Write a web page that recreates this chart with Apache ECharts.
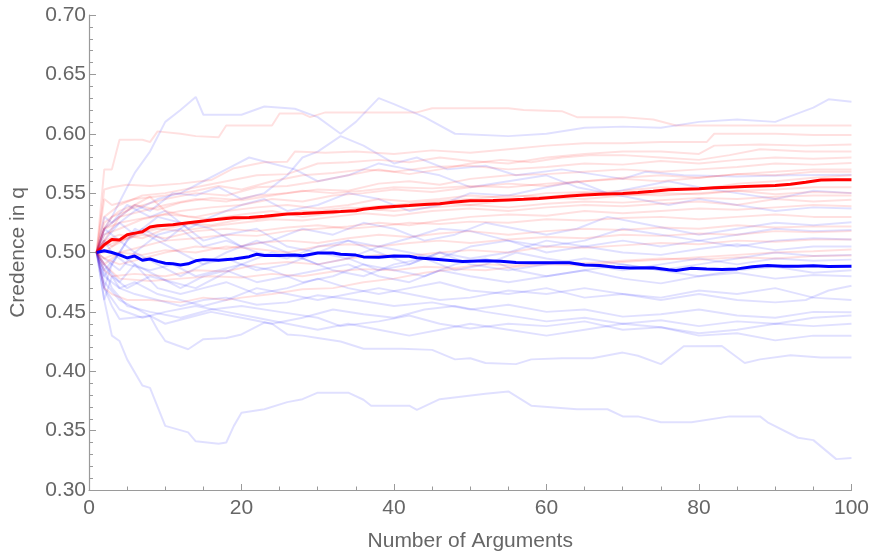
<!DOCTYPE html>
<html><head><meta charset="utf-8">
<script src="https://cdn.jsdelivr.net/npm/echarts@6/dist/echarts.min.js"></script>
<style>html,body{margin:0;padding:0;background:#fff}#c{width:872px;height:557px}</style>
</head><body><div id="c"></div>
<script>
// Individual faint runs (x = number of arguments, y = credence in q)
const r01=[[1,.5],[2,.57],[3,.57],[4,.595],[7,.595],[8,.593],[9,.602],[12,.60],[14,.598],[17,.597],[18,.607],[24,.607],[25,.617],[28,.617],[29,.614],[31,.618],[43,.618],[45,.6215],[55,.6215],[57,.62],[62,.619],[64,.614],[70,.614],[74,.612],[77,.607],[95,.607],[100,.607]];
const r02=[[1,.5],[2,.553],[3,.555],[5,.557],[8,.556],[12,.558],[16,.561],[19,.571],[23,.576],[26,.5765],[27,.585],[31,.584],[35,.585],[40,.583],[45,.586],[50,.584],[55,.587],[60,.59],[65,.592],[70,.592],[75,.593],[81,.593],[82,.6],[90,.6],[95,.599],[100,.599]];
const r03=[[1,.5],[2,.53],[4,.54],[7,.548],[10,.55],[14,.555],[18,.56],[22,.565],[26,.566],[30,.575],[34,.576],[38,.578],[42,.576],[46,.58],[50,.577],[55,.575],[60,.58],[65,.583],[70,.585],[75,.585],[80,.583],[82,.59],[88,.591],[94,.59],[100,.591]];
const r04=[[1,.5],[2,.52],[3,.53],[6,.538],[10,.545],[14,.55],[18,.548],[22,.555],[26,.556],[30,.56],[34,.565],[38,.57],[42,.566],[46,.57],[50,.575],[54,.578],[58,.576],[62,.58],[66,.582],[70,.582],[75,.58],[80,.578],[84,.582],[88,.587],[94,.585],[100,.585]];
const r05=[[1,.5],[2,.51],[4,.53],[7,.535],[10,.54],[14,.545],[18,.543],[22,.548],[26,.55],[30,.553],[34,.552],[38,.558],[42,.56],[46,.557],[50,.562],[55,.565],[60,.566],[65,.568],[70,.57],[75,.568],[80,.57],[85,.572],[90,.575],[95,.574],[100,.5754]];
const r06=[[1,.5],[2,.525],[4,.535],[6,.54],[9,.536],[12,.542],[16,.546],[20,.544],[24,.548],[28,.552],[32,.55],[36,.552],[40,.555],[45,.554],[50,.556],[55,.555],[60,.558],[65,.56],[70,.562],[75,.56],[80,.563],[85,.566],[90,.565],[95,.568],[100,.568]];
const r07=[[1,.5],[2,.515],[4,.52],[7,.528],[10,.532],[14,.53],[18,.535],[22,.538],[26,.54],[30,.537],[34,.54],[38,.545],[42,.543],[46,.545],[50,.548],[55,.546],[60,.55],[65,.551],[70,.549],[75,.548],[80,.55],[85,.552],[90,.549],[95,.551],[100,.5502]];
const r08=[[1,.5],[2,.51],[3,.505],[6,.515],[9,.52],[12,.518],[16,.522],[20,.525],[24,.528],[28,.527],[32,.53],[36,.533],[40,.531],[45,.535],[50,.537],[55,.535],[60,.538],[65,.54],[70,.539],[75,.541],[80,.543],[85,.54],[90,.545],[95,.543],[100,.5445]];
const r09=[[1,.5],[2,.49],[4,.5],[7,.505],[10,.51],[14,.512],[18,.515],[22,.514],[26,.518],[30,.52],[34,.522],[38,.525],[42,.523],[46,.527],[50,.53],[55,.532],[60,.531],[65,.535],[70,.533],[75,.535],[80,.537],[85,.536],[90,.538],[95,.54],[100,.539]];
const r10=[[1,.5],[2,.505],[4,.51],[7,.515],[10,.512],[14,.518],[18,.52],[22,.518],[26,.521],[30,.523],[34,.52],[38,.522],[42,.525],[46,.524],[50,.526],[55,.525],[60,.528],[65,.527],[70,.529],[75,.53],[80,.528],[85,.53],[90,.532],[95,.53],[100,.53]];
const r11=[[1,.5],[2,.495],[4,.49],[7,.495],[10,.5],[14,.505],[18,.503],[22,.508],[26,.51],[30,.508],[34,.512],[38,.515],[42,.513],[46,.516],[50,.518],[55,.515],[60,.518],[65,.52],[70,.519],[75,.521],[80,.52],[85,.523],[90,.521],[95,.522],[100,.522]];
const r12=[[1,.5],[2,.485],[3,.48],[6,.482],[10,.48],[14,.485],[18,.484],[22,.49],[26,.492],[30,.49],[34,.495],[38,.498],[42,.497],[46,.5],[50,.502],[55,.5],[60,.505],[65,.504],[70,.506],[75,.508],[80,.507],[85,.51],[90,.509],[95,.511],[100,.511]];
const r13=[[1,.5],[2,.47],[3,.465],[5,.46],[8,.46],[12,.458],[15,.462],[18,.46],[20,.462],[24,.465],[28,.469],[32,.47],[36,.475],[40,.478],[44,.483],[48,.486],[52,.485],[56,.488],[60,.49],[65,.489],[70,.492],[75,.494],[80,.496],[85,.498],[90,.5],[95,.501],[100,.5025]];
const r14=[[1,.5],[2,.49],[4,.478],[8,.476],[12,.478],[16,.48],[20,.479],[24,.482],[28,.48],[32,.484],[36,.486],[40,.485],[44,.488],[48,.487],[52,.49],[56,.489],[60,.492],[65,.491],[70,.493],[75,.495],[80,.494],[85,.496],[90,.495],[95,.497],[100,.4975]];
const r15=[[1,.5],[2,.545],[3,.54],[6,.545],[10,.548],[14,.552],[17,.556],[20,.553],[24,.56],[28,.565],[32,.567],[36,.57],[40,.568],[45,.572],[50,.573],[55,.57],[60,.572],[65,.575],[70,.574],[75,.577],[80,.575],[85,.578],[90,.58],[95,.579],[100,.58]];
const r16=[[1,.5],[2,.52],[4,.525],[8,.53],[12,.535],[16,.538],[20,.54],[24,.545],[28,.543],[32,.548],[36,.55],[40,.553],[45,.551],[50,.555],[55,.558],[60,.556],[65,.56],[70,.563],[75,.565],[80,.563],[85,.566],[90,.568],[95,.57],[100,.57]];
const r17=[[1,.5],[2,.5],[4,.51],[8,.52],[12,.525],[16,.523],[20,.528],[24,.53],[28,.535],[32,.533],[36,.538],[40,.54],[45,.543],[50,.545],[55,.548],[60,.547],[65,.55],[70,.552],[75,.555],[80,.553],[85,.558],[90,.56],[95,.563],[100,.565]];
const r18=[[1,.5],[2,.51],[4,.515],[7,.512],[10,.52],[14,.525],[18,.53],[22,.528],[26,.532],[30,.535],[34,.538],[38,.536],[42,.54],[46,.542],[50,.54],[55,.544],[60,.546],[65,.545],[70,.548],[75,.55],[80,.549],[85,.552],[90,.553],[95,.555],[100,.555]];
const r19=[[1,.5],[2,.52],[4,.53],[6,.54],[8,.547],[10,.535],[13,.53],[16,.528],[20,.532],[24,.535],[28,.53],[32,.533],[36,.537],[40,.535],[45,.538],[50,.54],[55,.538],[60,.541],[65,.543],[70,.542],[75,.544],[80,.546],[85,.545],[90,.547],[95,.548],[100,.548]];
const r20=[[1,.5],[2,.495],[4,.5],[7,.498],[10,.502],[14,.5],[18,.505],[22,.503],[26,.5],[30,.505],[34,.507],[38,.505],[42,.508],[46,.51],[50,.508],[55,.511],[60,.513],[65,.512],[70,.515],[75,.514],[80,.516],[85,.515],[90,.518],[95,.517],[100,.518]];

const b01=[[1,.5],[2,.52],[3,.53],[5,.555],[6,.567],[8,.585],[10,.61],[12,.62],[14,.631],[15,.616],[20,.616],[23,.623],[27,.621],[30,.614],[33,.60],[35,.61],[38,.63],[40,.625],[44,.614],[48,.60],[55,.598],[60,.60],[65,.605],[70,.606],[75,.605],[80,.61],[85,.612],[90,.61],[95,.622],[97,.629],[100,.627]];
const b02=[[1,.5],[2,.52],[4,.53],[6,.54],[8,.535],[11,.55],[14,.548],[17,.555],[20,.545],[23,.55],[26,.565],[28,.58],[30,.585],[33,.598],[36,.59],[40,.575],[43,.58],[47,.57],[52,.573],[56,.565],[62,.57],[66,.566],[70,.562],[73,.568],[78,.565],[85,.564],[92,.565],[100,.5655]];
const b03=[[1,.5],[2,.53],[3,.525],[5,.54],[8,.53],[10,.535],[13,.52],[16,.53],[20,.54],[23,.545],[26,.535],[30,.54],[34,.55],[38,.545],[42,.535],[46,.54],[50,.55],[55,.548],[60,.555],[64,.56],[68,.55],[72,.545],[76,.54],[80,.545],[85,.54],[90,.535],[95,.538],[100,.537]];
const b04=[[1,.5],[2,.47],[3,.49],[5,.51],[7,.52],[10,.51],[13,.525],[16,.52],[20,.505],[24,.51],[28,.52],[32,.515],[36,.525],[40,.52],[44,.51],[48,.515],[52,.525],[56,.52],[60,.515],[64,.52],[68,.53],[72,.525],[76,.52],[80,.515],[85,.52],[90,.525],[95,.523],[100,.5255]];
const b05=[[1,.5],[2,.515],[4,.525],[6,.515],[9,.53],[12,.525],[15,.51],[18,.515],[22,.52],[26,.505],[30,.5],[34,.51],[38,.505],[42,.512],[46,.52],[50,.518],[55,.51],[60,.505],[65,.51],[70,.52],[75,.515],[80,.51],[85,.515],[90,.52],[95,.518],[100,.519]];
const b06=[[1,.5],[2,.48],[4,.5],[6,.52],[9,.51],[12,.5],[15,.49],[18,.495],[22,.485],[26,.49],[30,.5],[34,.495],[38,.505],[42,.5],[46,.495],[50,.505],[55,.51],[60,.5],[65,.505],[70,.51],[75,.505],[80,.51],[85,.505],[90,.51],[95,.512],[100,.511]];
const b07=[[1,.5],[2,.51],[3,.5],[5,.49],[8,.485],[11,.49],[14,.48],[17,.485],[20,.49],[24,.5],[28,.495],[32,.485],[36,.48],[40,.49],[44,.495],[48,.485],[52,.49],[56,.5],[60,.495],[65,.49],[70,.485],[75,.49],[80,.495],[85,.49],[90,.495],[95,.493],[100,.494]];
const b08=[[1,.5],[2,.49],[4,.475],[6,.49],[9,.48],[12,.47],[15,.48],[18,.485],[22,.475],[26,.48],[30,.485],[34,.49],[38,.48],[42,.475],[46,.485],[50,.48],[55,.475],[60,.48],[65,.485],[70,.478],[75,.474],[80,.48],[85,.483],[90,.478],[95,.481],[100,.48]];
const b09=[[1,.5],[2,.485],[4,.5],[6,.49],[9,.47],[12,.465],[15,.47],[18,.475],[22,.465],[26,.47],[30,.478],[34,.47],[38,.465],[42,.47],[46,.475],[50,.468],[55,.465],[60,.47],[65,.462],[70,.465],[75,.46],[80,.465],[85,.46],[90,.458],[94,.46],[97,.468],[100,.472]];
const b10=[[1,.5],[2,.48],[4,.47],[6,.475],[9,.465],[12,.46],[15,.455],[18,.46],[22,.47],[26,.465],[30,.46],[34,.465],[38,.47],[42,.465],[46,.46],[50,.462],[55,.468],[60,.465],[65,.47],[70,.465],[75,.462],[80,.468],[85,.465],[90,.47],[95,.462],[100,.46]];
const b11=[[1,.5],[2,.49],[4,.47],[6,.465],[9,.46],[12,.455],[15,.46],[18,.462],[22,.456],[26,.458],[30,.464],[35,.46],[40,.455],[45,.458],[50,.452],[55,.456],[60,.45],[65,.452],[70,.446],[75,.448],[80,.452],[85,.447],[90,.445],[95,.45],[100,.4496]];
const b12=[[1,.5],[2,.475],[4,.46],[7,.45],[10,.44],[13,.445],[16,.45],[20,.445],[24,.44],[28,.445],[32,.452],[36,.448],[40,.445],[44,.452],[48,.455],[52,.45],[56,.446],[60,.442],[65,.445],[70,.44],[75,.443],[80,.438],[85,.442],[90,.44],[95,.445],[100,.447]];
const b13=[[1,.5],[2,.47],[4,.452],[7,.445],[10,.45],[14,.455],[18,.45],[22,.445],[26,.44],[30,.435],[34,.44],[38,.435],[42,.43],[46,.435],[50,.44],[55,.435],[60,.43],[65,.435],[70,.44],[75,.437],[80,.432],[85,.435],[90,.44],[95,.438],[100,.44]];
const b14=[[1,.5],[2,.485],[3,.47],[5,.455],[8,.45],[12,.445],[16,.452],[20,.455],[25,.45],[30,.445],[33,.438],[38,.442],[42,.447],[46,.44],[50,.436],[55,.44],[60,.438],[65,.442],[70,.435],[75,.437],[80,.43],[85,.432],[90,.426],[95,.43],[100,.43]];
const b15=[[1,.5],[2,.47],[3,.455],[4,.444],[8,.4465],[9,.435],[10,.4255],[13,.4185],[15,.427],[18,.428],[20,.431],[23,.441],[24,.44],[26,.431],[28,.43],[30,.428],[33,.425],[36,.419],[41,.419],[45,.418],[48,.41],[50,.411],[52,.407],[56,.406],[58,.41],[62,.411],[66,.411],[70,.4157],[72,.413],[75,.406],[78,.421],[83,.4213],[86,.407],[88,.41],[92,.4135],[96,.4115],[100,.4115]];
const b16=[[1,.5],[2,.46],[3,.43],[4,.4255],[5,.41],[7,.388],[8,.386],[10,.354],[13,.3485],[14,.341],[17,.339],[18,.34],[19,.354],[20,.365],[23,.368],[26,.374],[28,.3765],[30,.382],[34,.382],[36,.376],[37,.371],[42,.371],[43,.3675],[46,.3765],[52,.381],[55,.383],[58,.371],[64,.368],[68,.368],[70,.362],[72,.362],[75,.357],[79,.357],[84,.362],[88,.362],[89,.357],[93,.344],[95,.342],[98,.326],[100,.327]];
const b17=[[1,.5],[2,.52],[4,.51],[6,.5],[9,.515],[12,.52],[15,.505],[18,.51],[22,.5],[26,.495],[30,.505],[34,.51],[38,.5],[42,.49],[46,.5],[50,.495],[55,.5],[60,.51],[65,.505],[70,.5],[75,.498],[80,.503],[85,.507],[90,.502],[95,.505],[100,.505]];
const b18=[[1,.5],[2,.495],[4,.485],[6,.5],[9,.49],[12,.48],[15,.49],[18,.5],[22,.51],[26,.5],[30,.49],[34,.495],[38,.485],[42,.49],[46,.5],[50,.49],[55,.485],[60,.49],[65,.495],[70,.49],[75,.485],[80,.49],[85,.495],[90,.5],[95,.497],[100,.498]];
const b19=[[1,.5],[2,.51],[4,.525],[6,.535],[9,.545],[12,.55],[15,.56],[18,.57],[21,.58],[24,.575],[27,.57],[30,.56],[34,.565],[38,.575],[42,.57],[46,.565],[50,.555],[55,.56],[60,.565],[64,.555],[68,.55],[72,.555],[76,.56],[80,.555],[85,.55],[90,.545],[95,.552],[100,.55]];
const b20=[[1,.5],[2,.46],[3,.48],[5,.47],[8,.48],[11,.475],[14,.47],[17,.48],[20,.49],[24,.485],[28,.475],[32,.48],[36,.49],[40,.485],[44,.48],[48,.49],[52,.495],[56,.485],[60,.48],[65,.485],[70,.49],[75,.485],[80,.48],[85,.485],[90,.488],[95,.483],[100,.485]];

// Mean curves
const redMean=[[1,.5],[2,.5065],[3,.511],[4,.5105],[5,.515],[6,.5163],[7,.5175],[8,.5215],[9,.5225],[11,.5233],[13,.525],[15,.5265],[17,.528],[19,.5292],[21,.5295],[23,.5305],[24,.5312],[26,.5325],[28,.5328],[30,.5335],[33,.5345],[35,.5352],[36,.5365],[38,.5378],[40,.5388],[42,.5395],[44,.5405],[46,.541],[48,.5425],[50,.5435],[53,.5438],[55,.5443],[57,.5448],[59,.5455],[61,.5465],[63,.5475],[65,.5485],[67,.549],[70,.5497],[72,.5505],[74,.5515],[76,.5528],[78,.5533],[80,.5537],[82,.5545],[84,.555],[86,.5555],[88,.556],[90,.5565],[92,.5575],[94,.5592],[96,.561],[98,.5613],[100,.5612]];
const blueMean=[[1,.5],[2,.5015],[3,.5],[4,.498],[5,.4955],[6,.497],[7,.4935],[8,.4945],[9,.4925],[10,.491],[11,.4905],[12,.4895],[13,.4905],[14,.493],[15,.494],[17,.4935],[19,.4945],[21,.4965],[22,.4985],[23,.4975],[25,.4975],[27,.4978],[28,.4972],[30,.4995],[32,.4995],[33,.4985],[35,.4978],[36,.4963],[38,.496],[40,.497],[42,.4968],[43,.4955],[45,.4945],[47,.4935],[49,.4925],[52,.493],[54,.4927],[56,.4915],[58,.4913],[63,.4913],[65,.4895],[67,.489],[69,.4875],[71,.487],[74,.4872],[76,.4855],[77,.4848],[79,.4868],[81,.4862],[83,.4857],[85,.4862],[87,.488],[89,.4891],[91,.4884],[93,.4885],[95,.4888],[97,.4883],[100,.4885]];

const redRuns=[r01,r02,r03,r04,r05,r06,r07,r08,r09,r10,r11,r12,r13,r14,r15,r16,r17,r18,r19,r20];
const blueRuns=[b01,b02,b03,b04,b05,b06,b07,b08,b09,b10,b11,b12,b13,b14,b15,b16,b17,b18,b19,b20];

const series=[];
blueRuns.forEach(d=>series.push({type:'line',data:d,showSymbol:false,silent:true,lineStyle:{color:'rgba(0,0,255,0.12)',width:2}}));
redRuns.forEach(d=>series.push({type:'line',data:d,showSymbol:false,silent:true,lineStyle:{color:'rgba(255,0,0,0.12)',width:2}}));
series.push({type:'line',data:redMean,showSymbol:false,lineStyle:{color:'#ff0000',width:3}});
series.push({type:'line',data:blueMean,showSymbol:false,lineStyle:{color:'#0000ff',width:3}});

const axisCol='#9a9a9a', txtCol='#666666', fam='"Liberation Sans", Arial, sans-serif';
const chart=echarts.init(document.getElementById('c'),null,{renderer:'canvas'});
chart.setOption({
  animation:false,
  backgroundColor:'#ffffff',
  grid:{left:83,right:18,top:15,bottom:66,containLabel:false},
  xAxis:{type:'value',min:0,max:100,interval:20,
    name:'Number of Arguments',nameLocation:'middle',nameGap:41,
    nameTextStyle:{color:txtCol,fontSize:21,fontFamily:fam},
    axisLine:{show:true,lineStyle:{color:axisCol,width:1.2}},
    axisTick:{show:true,inside:true,length:6,lineStyle:{color:axisCol}},
    minorTick:{show:true,splitNumber:4,length:3.5,lineStyle:{color:axisCol}},
    splitLine:{show:false},
    axisLabel:{color:txtCol,fontSize:21,fontFamily:fam,margin:8}},
  yAxis:{type:'value',min:0.3,max:0.7,interval:0.05,
    name:'Credence in q',nameLocation:'middle',nameGap:60,
    nameTextStyle:{color:txtCol,fontSize:21,fontFamily:fam},
    axisLine:{show:true,lineStyle:{color:axisCol,width:1.2}},
    axisTick:{show:true,inside:true,length:7,lineStyle:{color:axisCol}},
    minorTick:{show:true,splitNumber:5,length:4,lineStyle:{color:axisCol}},
    splitLine:{show:false},
    axisLabel:{color:txtCol,fontSize:21,fontFamily:fam,margin:3,formatter:v=>v.toFixed(2)}},
  series:series
});
</script></body></html>
